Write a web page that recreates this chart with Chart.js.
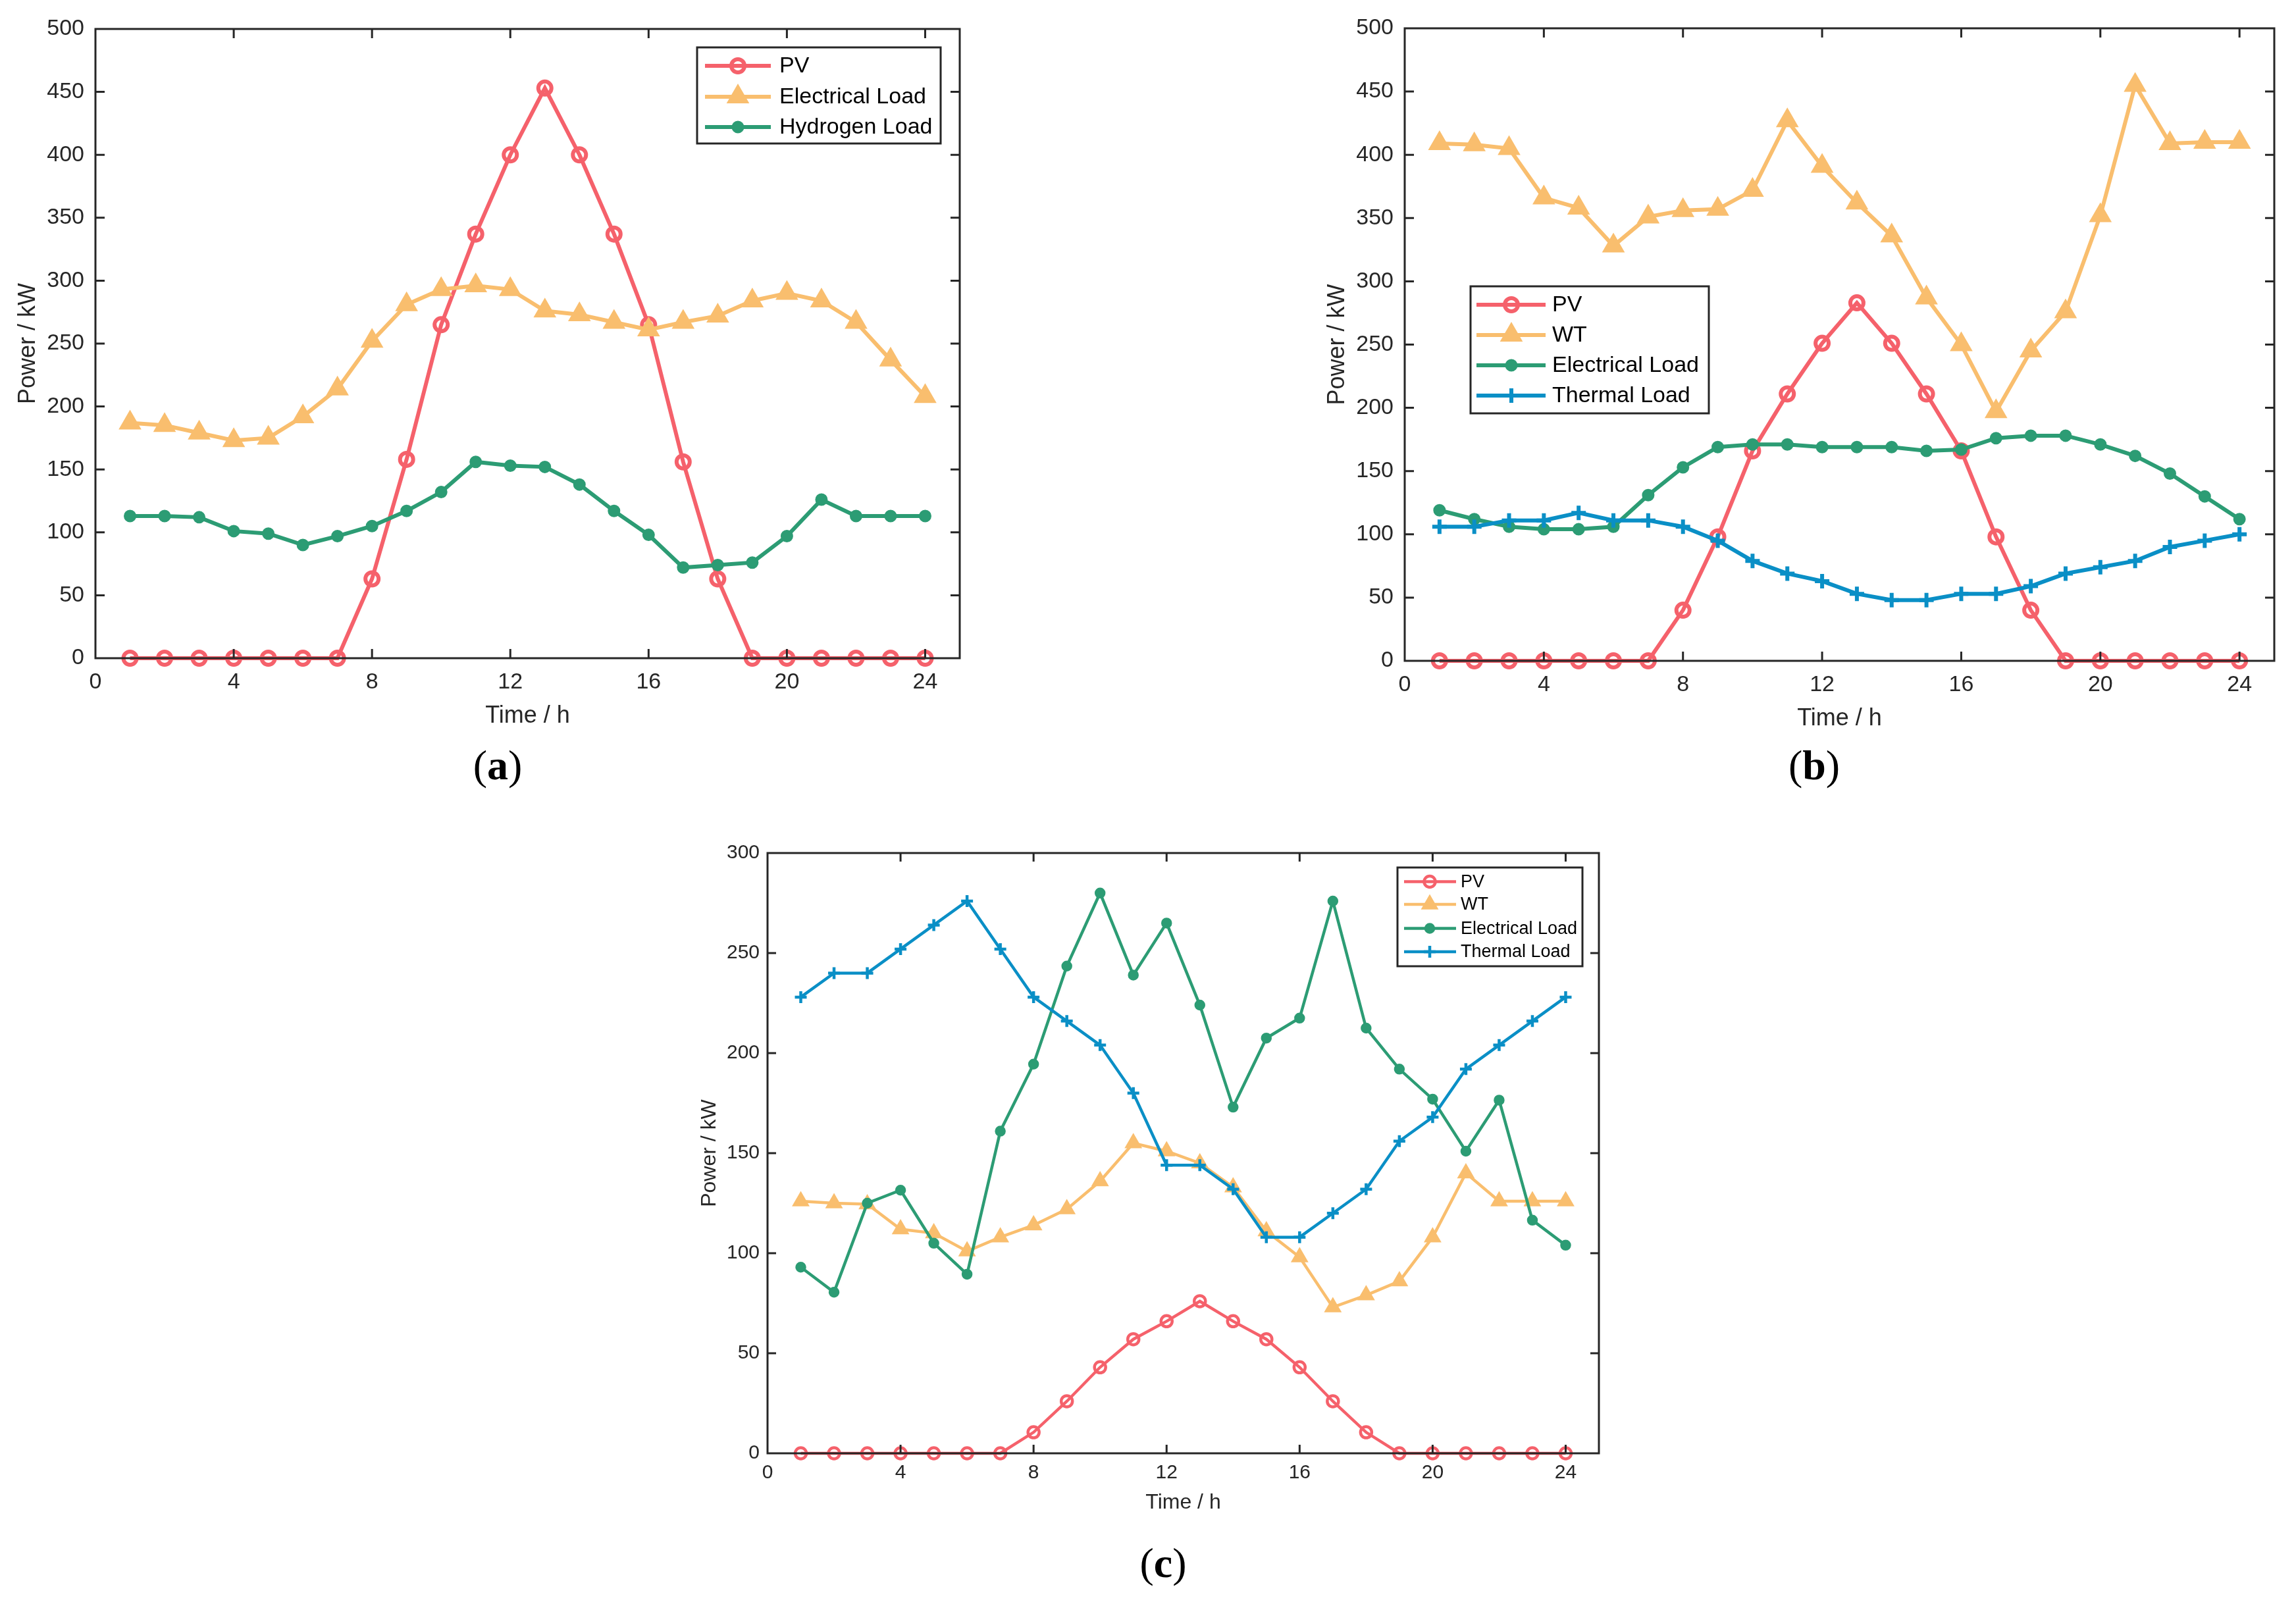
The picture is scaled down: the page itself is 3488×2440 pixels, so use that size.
<!DOCTYPE html>
<html>
<head>
<meta charset="utf-8">
<script src="https://cdn.jsdelivr.net/npm/chart.js@4.4.1/dist/chart.umd.min.js"></script>
<style>
html, body { margin: 0; padding: 0; background: #fff; }
body { width: 3488px; height: 2440px; position: relative; overflow: hidden; }
canvas { position: absolute; }
.cap { position: absolute; width: 200px; text-align: center; white-space: nowrap;
       font-family: 'Liberation Serif', 'Times New Roman', serif; font-size: 64px; line-height: 64px; color: #000; }
.cap b { font-weight: bold; }
</style>
</head>
<body>
<canvas id="ca"></canvas>
<canvas id="cb"></canvas>
<canvas id="cc"></canvas>
<div class="cap" id="capA">(<b>a</b>)</div>
<div class="cap" id="capB">(<b>b</b>)</div>
<div class="cap" id="capC">(<b>c</b>)</div>
<script>
// ---------------- data ----------------
const hours = [1,2,3,4,5,6,7,8,9,10,11,12,13,14,15,16,17,18,19,20,21,22,23,24];
const xTicks = [0,4,8,12,16,20,24];
const yTicksAB = [0,50,100,150,200,250,300,350,400,450,500];
const yTicksC = [0,50,100,150,200,250,300];

// panel (a)
const aNames = ['PV', 'Electrical Load', 'Hydrogen Load'];
const aPV    = [0,0,0,0,0,0,0,63,158,265,337,400,453,400,337,265,156,63,0,0,0,0,0,0];
const aElec  = [187,185,179,173,175,192,214,252,281,293,296,293,276,273,267,261,267,272,284,290,284,267,237,208];
const aH2    = [113,113,112,101,99,90,97,105,117,132,156,153,152,138,117,98,72,74,76,97,126,113,113,113];

// panel (b)
const bNames = ['PV', 'WT', 'Electrical Load', 'Thermal Load'];
const bPV    = [0,0,0,0,0,0,0,40,98,166,211,251,283,251,211,166,98,40,0,0,0,0,0,0];
const bWT    = [409,408,405,366,358,328,351,356,357,372,427,391,362,336,287,250,197,245,276,352,455,409,410,410];
const bElec  = [119,112,106,104,104,106,131,153,169,171,171,169,169,169,166,167,176,178,178,171,162,148,130,112];
const bHeat  = [106,106,111,111,117,111,111,106,95,79,69,63,53,48,48,53,53,59,69,74,79,90,95,100];

// panel (c)
const cNames = ['PV', 'WT', 'Electrical Load', 'Thermal Load'];
const cPV    = [0,0,0,0,0,0,0,10.5,26,43,57,66,76,66,57,43,26,10.5,0,0,0,0,0,0];
const cWT    = [126,125,124.5,112,110,101,108,114,122,136,155,151,145,133,111,98,73,79,86,108,140,126,126,126];
const cElec  = [93,80.5,125,131.5,105,89.5,161,194.5,243.5,280,239,265,224,173,207.5,217.5,276,212.5,192,177,151,176.5,116.5,104];
const cHeat  = [228,240,240,252,264,276,252,228,216,204,180,144,144,132,108,108,120,132,156,168,192,204,216,228];

// ---------------- styles ----------------
const FONT = "'Liberation Sans', Arial, Helvetica, sans-serif";
const INK = '#262626';
const RED = '#F5616B', ORANGE = '#F9BE6E', GREEN = '#2C9C74', BLUE = '#0A8FC6';

function drawMarker(ctx, style, x, y, m, color) {
  ctx.save();
  ctx.lineWidth = m.bw; ctx.strokeStyle = color; ctx.fillStyle = color;
  ctx.lineJoin = 'miter';
  ctx.beginPath();
  if (style === 'open') {
    ctx.arc(x, y, m.r, 0, Math.PI * 2); ctx.stroke();
  } else if (style === 'dot') {
    ctx.arc(x, y, m.r, 0, Math.PI * 2); ctx.fill(); ctx.stroke();
  } else if (style === 'tri') {
    for (let k = 0; k < 3; k++) {
      const a = k * 2 * Math.PI / 3;
      const px = x + Math.sin(a) * m.r, py = y - Math.cos(a) * m.r;
      if (k === 0) ctx.moveTo(px, py); else ctx.lineTo(px, py);
    }
    ctx.closePath(); ctx.fill(); ctx.stroke();
  } else if (style === 'plus') {
    ctx.moveTo(x, y - m.r); ctx.lineTo(x, y + m.r);
    ctx.moveTo(x - m.r, y); ctx.lineTo(x + m.r, y); ctx.stroke();
  }
  ctx.restore();
}

function makeDataset(name, vals, color, style, g, i, n) {
  const m = g.markers[style];
  const cs = { open: 'circle', dot: 'circle', tri: 'triangle', plus: 'cross' }[style];
  return {
    label: name,
    data: hours.map((h, k) => ({ x: h, y: vals[k] })),
    borderColor: color, borderWidth: g.lw, backgroundColor: color,
    pointStyle: cs, pointRadius: m.r, pointHoverRadius: m.r, pointBorderWidth: m.bw,
    pointBackgroundColor: style === 'open' ? 'rgba(0,0,0,0)' : color,
    pointBorderColor: color, tension: 0, fill: false, clip: false,
    order: n - i, _style: style
  };
}

function makeChart(id, series, yTicks, yMax, g) {
  const cv = document.getElementById(id);
  cv.width = g.w; cv.height = g.h;
  cv.style.left = g.left + 'px'; cv.style.top = g.top + 'px';
  cv.style.width = g.w + 'px'; cv.style.height = g.h + 'px';
  const n = series.length;
  const datasets = series.map((s, i) => makeDataset(s.name, s.vals, s.color, s.style, g, i, n));

  const framePlugin = {
    id: 'frame_' + id,
    afterDatasetsDraw(chart) {
      const ctx = chart.ctx, a = chart.chartArea;
      const xs = chart.scales.x, ys = chart.scales.y;
      ctx.save();
      ctx.strokeStyle = INK; ctx.lineWidth = g.axisLw; ctx.lineCap = 'butt';
      ctx.beginPath();
      xTicks.forEach(v => {
        const p = xs.getPixelForValue(v);
        if (Math.abs(p - a.left) < 2 || Math.abs(p - a.right) < 2) return;
        ctx.moveTo(p, a.bottom); ctx.lineTo(p, a.bottom - g.tl);
        ctx.moveTo(p, a.top); ctx.lineTo(p, a.top + g.tl);
      });
      yTicks.forEach(v => {
        const p = ys.getPixelForValue(v);
        if (Math.abs(p - a.top) < 2 || Math.abs(p - a.bottom) < 2) return;
        ctx.moveTo(a.left, p); ctx.lineTo(a.left + g.tl, p);
        ctx.moveTo(a.right, p); ctx.lineTo(a.right - g.tl, p);
      });
      ctx.stroke();
      ctx.strokeRect(a.left, a.top, a.right - a.left, a.bottom - a.top);
      // legend
      const L = g.legend, ox = g.left, oy = g.top;
      ctx.fillStyle = '#fff';
      ctx.fillRect(L.box[0] - ox, L.box[1] - oy, L.box[2] - L.box[0], L.box[3] - L.box[1]);
      ctx.strokeStyle = INK; ctx.lineWidth = g.axisLw;
      ctx.strokeRect(L.box[0] - ox, L.box[1] - oy, L.box[2] - L.box[0], L.box[3] - L.box[1]);
      chart.data.datasets.forEach((ds, i) => {
        const y = L.rows[i] - oy;
        ctx.strokeStyle = ds.borderColor; ctx.lineWidth = g.lw;
        ctx.beginPath(); ctx.moveTo(L.line[0] - ox, y); ctx.lineTo(L.line[1] - ox, y); ctx.stroke();
        drawMarker(ctx, ds._style, L.mx - ox, y, g.markers[ds._style], ds.borderColor);
        ctx.fillStyle = '#000';
        ctx.font = L.font + 'px ' + FONT;
        ctx.textAlign = 'left'; ctx.textBaseline = 'middle';
        ctx.fillText(ds.label, L.tx - ox, y + 1);
      });
      ctx.restore();
    }
  };

  return new Chart(cv, {
    type: 'line',
    data: { datasets },
    options: {
      responsive: false, animation: false, devicePixelRatio: 1, events: [],
      layout: { padding: { left: g.padL, top: g.padT, right: g.padR, bottom: 0 } },
      plugins: { legend: { display: false }, tooltip: { enabled: false } },
      scales: {
        x: {
          type: 'linear', min: 0, max: 25,
          afterBuildTicks: s => { s.ticks = xTicks.map(v => ({ value: v })); },
          afterFit: s => { s.height = g.xH; },
          grid: { display: false, drawTicks: false }, border: { display: false },
          ticks: { font: { family: FONT, size: g.tick }, color: INK, padding: g.xPad, maxRotation: 0, autoSkip: false },
          title: { display: true, text: 'Time / h', color: INK, font: { family: FONT, size: g.title }, padding: { top: 0, bottom: g.xTitlePad } }
        },
        y: {
          type: 'linear', min: 0, max: yMax,
          afterBuildTicks: s => { s.ticks = yTicks.map(v => ({ value: v })); },
          afterFit: s => { s.width = g.yW; },
          grid: { display: false, drawTicks: false }, border: { display: false },
          ticks: { font: { family: FONT, size: g.tick }, color: INK, padding: g.yPad, autoSkip: false },
          title: { display: true, text: 'Power / kW', color: INK, font: { family: FONT, size: g.title }, padding: { top: g.yTitlePad, bottom: 0 } }
        }
      }
    },
    plugins: [framePlugin]
  });
}

const bigMarkers = { open: { r: 10, bw: 6 }, tri: { r: 16, bw: 4 }, dot: { r: 8, bw: 3 }, plus: { r: 11, bw: 6 } };
const smallMarkers = { open: { r: 8.5, bw: 4.5 }, tri: { r: 12.5, bw: 3 }, dot: { r: 7, bw: 2.5 }, plus: { r: 9, bw: 4.5 } };

makeChart('ca', [
  { name: aNames[0], vals: aPV, color: RED, style: 'open' },
  { name: aNames[1], vals: aElec, color: ORANGE, style: 'tri' },
  { name: aNames[2], vals: aH2, color: GREEN, style: 'dot' }
], yTicksAB, 500, {
  left: 0, top: 0, w: 1500, h: 1140, padL: 0, padT: 44, padR: 42, yW: 145, xH: 140,
  tick: 34, title: 36, xPad: 16, yPad: 17, xTitlePad: 30, yTitlePad: 21,
  lw: 6, axisLw: 3, tl: 14, markers: bigMarkers,
  legend: { box: [1059, 72, 1429, 218], rows: [100, 147, 193], line: [1071, 1171], mx: 1121, tx: 1184, font: 34 }
});

makeChart('cb', [
  { name: bNames[0], vals: bPV, color: RED, style: 'open' },
  { name: bNames[1], vals: bWT, color: ORANGE, style: 'tri' },
  { name: bNames[2], vals: bElec, color: GREEN, style: 'dot' },
  { name: bNames[3], vals: bHeat, color: BLUE, style: 'plus' }
], yTicksAB, 500, {
  left: 1990, top: 0, w: 1498, h: 1140, padL: 0, padT: 43, padR: 33, yW: 144, xH: 136,
  tick: 34, title: 36, xPad: 16, yPad: 17, xTitlePad: 26, yTitlePad: 20,
  lw: 6, axisLw: 3, tl: 14, markers: bigMarkers,
  legend: { box: [2234, 435, 2596, 628], rows: [463, 509, 555, 601], line: [2243, 2348], mx: 2296, tx: 2358, font: 34 }
});

makeChart('cc', [
  { name: cNames[0], vals: cPV, color: RED, style: 'open' },
  { name: cNames[1], vals: cWT, color: ORANGE, style: 'tri' },
  { name: cNames[2], vals: cElec, color: GREEN, style: 'dot' },
  { name: cNames[3], vals: cHeat, color: BLUE, style: 'plus' }
], yTicksC, 300, {
  left: 1020, top: 1250, w: 1460, h: 1110, padL: 0, padT: 46, padR: 51, yW: 146, xH: 152,
  tick: 30, title: 32, xPad: 12, yPad: 12, xTitlePad: 58, yTitlePad: 39,
  lw: 4.5, axisLw: 3, tl: 13, markers: smallMarkers,
  legend: { box: [2123, 1318, 2404, 1468], rows: [1339.5, 1374, 1410.5, 1446], line: [2133, 2212], mx: 2172, tx: 2219, font: 27 }
});

function placeCap(id, cx, top) {
  const el = document.getElementById(id);
  el.style.left = (cx - 100) + 'px'; el.style.top = top + 'px';
}
placeCap('capA', 756, 1131);
placeCap('capB', 2756, 1131);
placeCap('capC', 1767, 2343);
</script>
</body>
</html>
